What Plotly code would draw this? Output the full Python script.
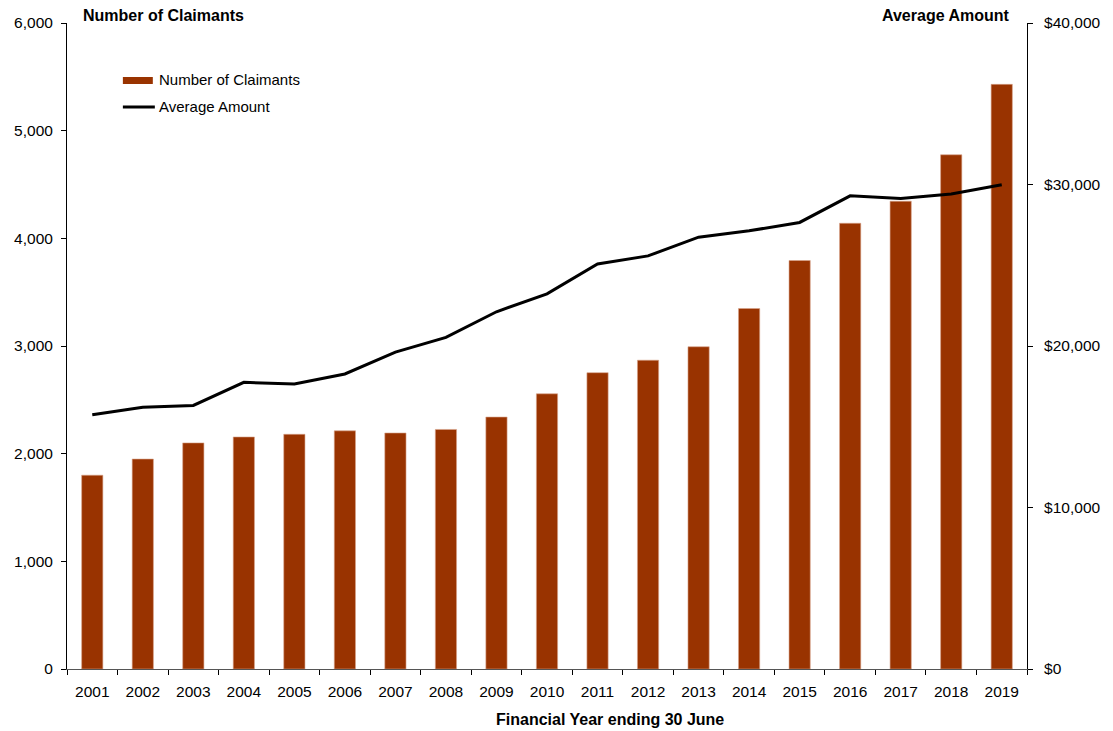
import plotly.graph_objects as go

years = [str(y) for y in range(2001, 2020)]
claimants = [1800, 1950, 2100, 2155, 2180, 2212, 2192, 2225, 2340, 2556, 2752,
             2868, 2993, 3348, 3794, 4140, 4345, 4776, 5430]
avg_amount = [15740, 16210, 16320, 17750, 17650, 18270, 19620, 20530, 22120, 23230,
              25080, 25580, 26740, 27130, 27650, 29300, 29140, 29410, 29990]

font_family = "Liberation Sans, Arial, sans-serif"
bar_color = "#993300"

fig = go.Figure()
fig.add_trace(go.Bar(
    x=years, y=claimants, name="Number of Claimants",
    marker=dict(color=bar_color, line=dict(color="#d9a58c", width=0.6)),
    width=0.42,
))
fig.add_trace(go.Scatter(
    x=years, y=avg_amount, name="Average Amount", yaxis="y2",
    mode="lines", line=dict(color="black", width=3),
))

# legend keys drawn as wide swatches (bar block and line stroke)
legend_shapes = [
    dict(type="rect", xref="paper", yref="paper",
         x0=0.0582, x1=0.0894, y0=0.9056, y1=0.9164,
         fillcolor=bar_color, line=dict(width=0)),
    dict(type="line", xref="paper", yref="paper",
         x0=0.0582, x1=0.0915, y0=0.870, y1=0.870,
         line=dict(color="black", width=3)),
]

fig.update_layout(
    width=1113, height=731,
    margin=dict(l=67, r=84, t=23, b=62),
    paper_bgcolor="white", plot_bgcolor="white",
    font=dict(family=font_family, size=15.5, color="black"),
    showlegend=False,
    shapes=legend_shapes,
    xaxis=dict(
        type="category", showgrid=False,
        showline=True, linecolor="#555555", linewidth=1,
        ticks="outside", ticklen=5, tickcolor="black", tickson="boundaries",
        ticklabelstandoff=8,
    ),
    yaxis=dict(
        range=[0, 6000], dtick=1000, tickformat=",", showgrid=False, zeroline=False,
        showline=True, linecolor="black", linewidth=1,
        ticks="outside", ticklen=5, tickcolor="black", ticklabelstandoff=5,
    ),
    yaxis2=dict(
        range=[0, 40000], dtick=10000, tickformat=",", tickprefix="$",
        overlaying="y", side="right", showgrid=False, zeroline=False,
        showline=True, linecolor="black", linewidth=1,
        ticks="outside", ticklen=5, tickcolor="black", ticklabelstandoff=8,
    ),
    annotations=[
        dict(text="<b>Number of Claimants</b>", xref="paper", yref="paper",
             x=0.0145, y=1.011, xanchor="left", yanchor="middle",
             showarrow=False, font=dict(size=16)),
        dict(text="<b>Average Amount</b>", xref="paper", yref="paper",
             x=0.984, y=1.011, xanchor="right", yanchor="middle",
             showarrow=False, font=dict(size=16)),
        dict(text="<b>Financial Year ending 30 June</b>", xref="paper", yref="paper",
             x=0.5655, y=-0.0789, xanchor="center", yanchor="middle",
             showarrow=False, font=dict(size=16)),
        dict(text="Number of Claimants", xref="paper", yref="paper",
             x=0.0935, y=0.9118, xanchor="left", yanchor="middle",
             showarrow=False, font=dict(size=15)),
        dict(text="Average Amount", xref="paper", yref="paper",
             x=0.0935, y=0.870, xanchor="left", yanchor="middle",
             showarrow=False, font=dict(size=15)),
    ],
)

fig.write_html("out.html")
